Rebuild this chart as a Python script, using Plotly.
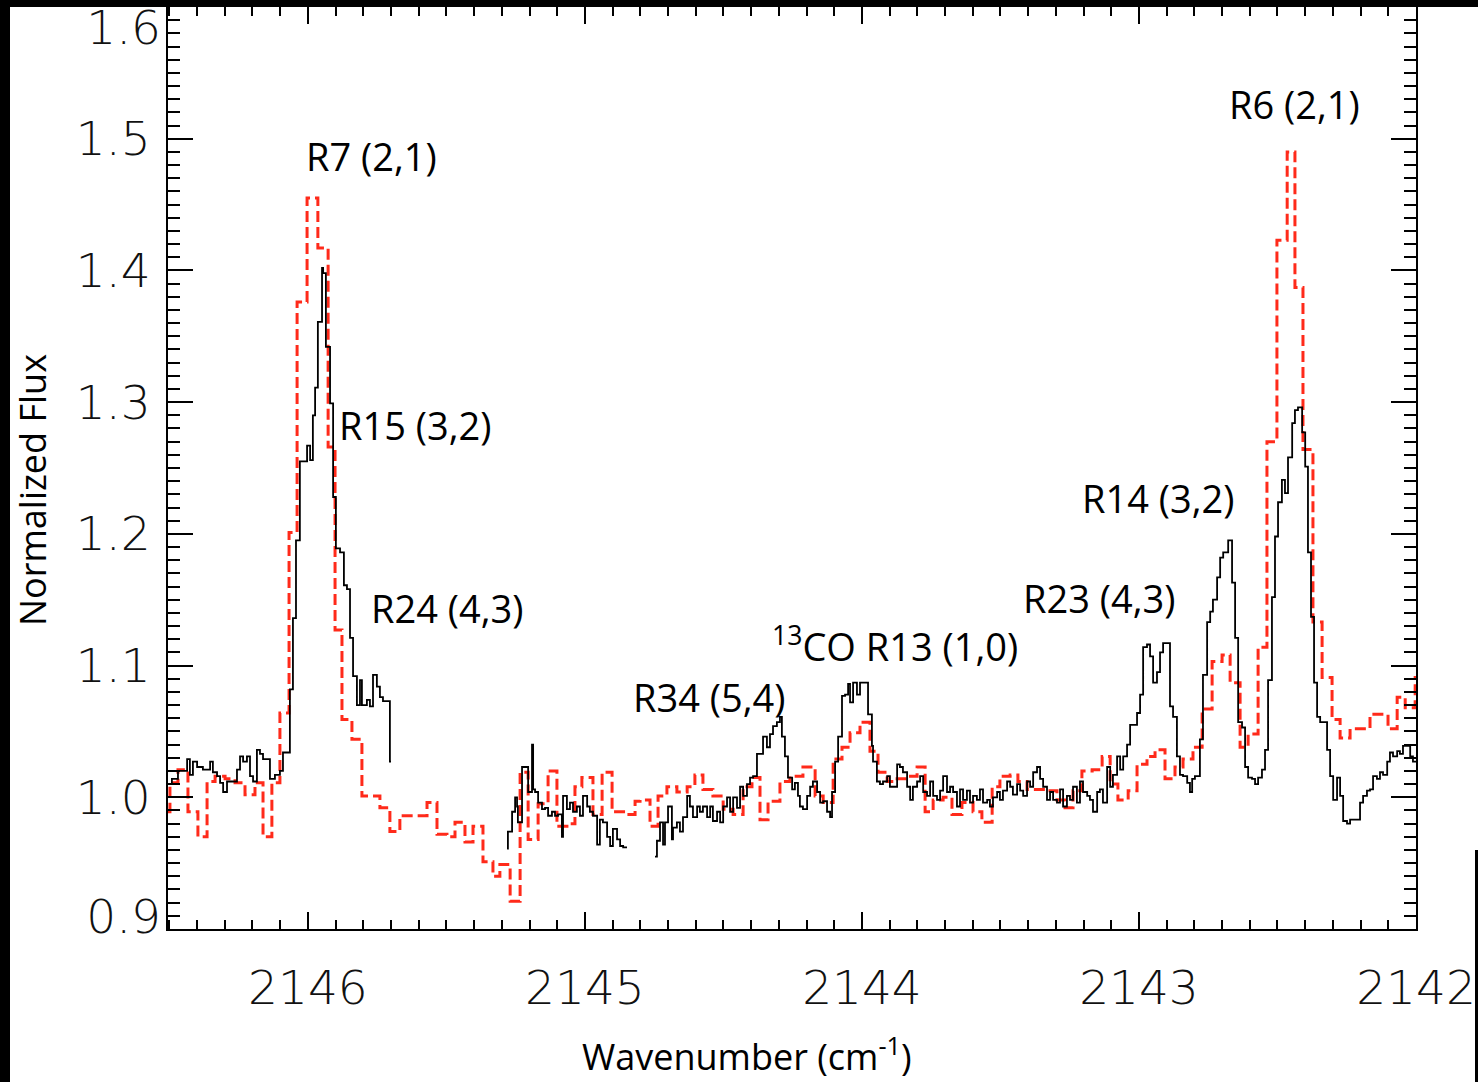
import plotly.graph_objects as go

# ---------------- data (wavenumber in cm^-1, normalized flux) ----------------
# observed spectrum (black, solid), three separate segments
obs_x1 = [2146.505, 2146.491, 2146.469, 2146.436, 2146.426, 2146.415, 2146.400, 2146.379, 2146.353, 2146.343,
          2146.328, 2146.317, 2146.306, 2146.292, 2146.256, 2146.245, 2146.234, 2146.220, 2146.209, 2146.198,
          2146.184, 2146.173, 2146.162, 2146.137, 2146.119, 2146.101, 2146.090, 2146.065, 2146.054, 2146.043,
          2146.029, 2146.014, 2146.003, 2145.992, 2145.982, 2145.974, 2145.964, 2145.949, 2145.945, 2145.935,
          2145.920, 2145.909, 2145.899, 2145.884, 2145.870, 2145.859, 2145.848, 2145.837, 2145.823, 2145.812,
          2145.805, 2145.787, 2145.776, 2145.765, 2145.751, 2145.740, 2145.729, 2145.704, 2145.700]
obs_y1 = [1.010, 1.014, 1.020, 1.029, 1.017, 1.027, 1.023, 1.021, 1.027, 1.019,
          1.016, 1.011, 1.004, 1.012, 1.021, 1.031, 1.027, 1.031, 1.016, 1.012,
          1.036, 1.033, 1.029, 1.014, 1.017, 1.020, 1.034, 1.082, 1.136, 1.195,
          1.255, 1.255, 1.267, 1.256, 1.290, 1.311, 1.361, 1.402, 1.398, 1.342,
          1.299, 1.228, 1.189, 1.186, 1.161, 1.158, 1.121, 1.092, 1.070, 1.089,
          1.070, 1.074, 1.069, 1.093, 1.084, 1.076, 1.073, 1.027, 1.027]

obs_x2 = [2145.281, 2145.278, 2145.263, 2145.252, 2145.245, 2145.242, 2145.227, 2145.205, 2145.191, 2145.187,
          2145.180, 2145.169, 2145.155, 2145.144, 2145.133, 2145.119, 2145.108, 2145.097, 2145.083, 2145.079,
          2145.065, 2145.054, 2145.043, 2145.029, 2145.018, 2145.007, 2144.992, 2144.982, 2144.971, 2144.956,
          2144.946, 2144.935, 2144.920, 2144.909, 2144.899, 2144.884, 2144.873, 2144.862, 2144.848]
obs_y2 = [0.961, 0.974, 0.989, 1.000, 0.993, 0.981, 1.023, 1.004, 1.040, 1.006,
          1.004, 0.996, 0.991, 0.992, 0.986, 0.989, 0.986, 0.987, 0.970, 1.001,
          0.991, 0.996, 0.989, 0.993, 0.986, 1.001, 0.993, 0.989, 0.986, 0.964,
          0.983, 0.981, 0.970, 0.963, 0.976, 0.968, 0.963, 0.962, 0.962]

obs_x3 = [2144.747, 2144.740, 2144.729, 2144.718, 2144.711, 2144.700, 2144.686, 2144.682, 2144.668, 2144.657,
          2144.646, 2144.631, 2144.621, 2144.610, 2144.595, 2144.585, 2144.574, 2144.559, 2144.548, 2144.538,
          2144.523, 2144.512, 2144.501, 2144.487, 2144.476, 2144.465, 2144.451, 2144.440, 2144.429, 2144.415,
          2144.404, 2144.393, 2144.379, 2144.357, 2144.343, 2144.332, 2144.321, 2144.307, 2144.296, 2144.289,
          2144.278, 2144.267, 2144.252, 2144.242, 2144.231, 2144.224, 2144.213, 2144.198, 2144.187, 2144.177,
          2144.162, 2144.151, 2144.140, 2144.126, 2144.115, 2144.108, 2144.097, 2144.086, 2144.072, 2144.061,
          2144.050, 2144.043, 2144.032, 2144.018, 2144.007, 2143.978, 2143.964, 2143.960, 2143.946, 2143.935,
          2143.924, 2143.909, 2143.899, 2143.888, 2143.873, 2143.863, 2143.852, 2143.837, 2143.826, 2143.816,
          2143.801, 2143.790, 2143.779, 2143.765, 2143.754, 2143.743, 2143.729, 2143.718, 2143.707, 2143.693,
          2143.682, 2143.671, 2143.657, 2143.646, 2143.635, 2143.621, 2143.610, 2143.599, 2143.585, 2143.574,
          2143.563, 2143.548, 2143.538, 2143.527, 2143.512, 2143.502, 2143.491, 2143.476, 2143.465, 2143.455,
          2143.440, 2143.429, 2143.418, 2143.404, 2143.393, 2143.382, 2143.368, 2143.357, 2143.346, 2143.332,
          2143.321, 2143.310, 2143.296, 2143.285, 2143.274, 2143.260, 2143.249, 2143.238, 2143.224, 2143.213,
          2143.202, 2143.187, 2143.177, 2143.166, 2143.151, 2143.141, 2143.130, 2143.115, 2143.104, 2143.094,
          2143.079, 2143.068, 2143.057, 2143.043, 2143.032, 2143.007, 2142.996, 2142.985, 2142.971, 2142.960,
          2142.949, 2142.935, 2142.924, 2142.913, 2142.888, 2142.877, 2142.863, 2142.852, 2142.841, 2142.826,
          2142.816, 2142.808, 2142.798, 2142.780, 2142.769, 2142.754, 2142.743, 2142.733, 2142.718, 2142.707,
          2142.696, 2142.678, 2142.664, 2142.653, 2142.642, 2142.628, 2142.617, 2142.606, 2142.592, 2142.581,
          2142.570, 2142.556, 2142.545, 2142.534, 2142.520, 2142.509, 2142.498, 2142.484, 2142.473, 2142.462,
          2142.447, 2142.437, 2142.426, 2142.411, 2142.400, 2142.390, 2142.379, 2142.368, 2142.357, 2142.346,
          2142.321, 2142.310, 2142.299, 2142.285, 2142.274, 2142.263, 2142.249, 2142.238, 2142.202, 2142.191,
          2142.177, 2142.166, 2142.155, 2142.141, 2142.130, 2142.119, 2142.104, 2142.094, 2142.083, 2142.068,
          2142.058, 2142.047, 2142.032, 2142.021, 2142.011, 2142.000]
obs_y3 = [0.955, 0.967, 0.981, 0.964, 0.981, 0.993, 0.968, 0.977, 0.981, 0.974,
          0.985, 1.001, 0.993, 0.985, 0.993, 0.989, 0.993, 0.985, 0.993, 0.982,
          0.989, 0.981, 0.993, 1.000, 0.989, 1.000, 0.992, 1.008, 1.001, 1.010,
          1.015, 1.016, 1.033, 1.046, 1.038, 1.048, 1.054, 1.057, 1.061, 1.046,
          1.031, 1.015, 1.006, 1.011, 1.001, 0.993, 0.991, 1.001, 1.008, 1.012,
          1.004, 0.996, 0.997, 0.989, 0.985, 1.004, 1.027, 1.046, 1.077, 1.078,
          1.086, 1.072, 1.087, 1.078, 1.087, 1.063, 1.039, 1.027, 1.012, 1.010,
          1.012, 1.016, 1.008, 1.008, 1.025, 1.023, 1.019, 1.008, 0.998, 1.008,
          1.012, 1.016, 1.004, 1.001, 1.012, 1.001, 0.998, 1.005, 1.016, 1.004,
          1.008, 1.004, 0.993, 1.006, 0.998, 1.005, 0.996, 1.001, 0.998, 1.006,
          0.996, 0.998, 0.993, 1.000, 1.004, 0.998, 1.005, 1.012, 1.008, 1.002,
          1.010, 1.005, 1.001, 1.012, 1.008, 1.019, 1.023, 1.014, 1.008, 0.998,
          1.004, 0.998, 0.996, 1.006, 0.993, 1.001, 0.998, 1.008, 0.996, 1.012,
          1.004, 1.001, 0.998, 0.989, 1.004, 1.006, 0.996, 1.023, 1.008, 1.017,
          1.031, 1.021, 1.031, 1.040, 1.055, 1.064, 1.078, 1.114, 1.116, 1.107,
          1.087, 1.095, 1.110, 1.117, 1.069, 1.061, 1.031, 1.017, 1.016, 1.011,
          1.004, 1.014, 1.016, 1.044, 1.093, 1.133, 1.141, 1.150, 1.167, 1.182,
          1.186, 1.195, 1.163, 1.121, 1.057, 1.053, 1.023, 1.015, 1.014, 1.010,
          1.015, 1.021, 1.036, 1.089, 1.152, 1.198, 1.224, 1.241, 1.231, 1.258,
          1.284, 1.294, 1.296, 1.277, 1.251, 1.186, 1.137, 1.087, 1.061, 1.057,
          1.036, 1.016, 0.998, 1.015, 1.001, 0.982, 0.980, 0.983, 0.996, 1.001,
          1.005, 1.006, 1.016, 1.014, 1.019, 1.017, 1.027, 1.034, 1.031, 1.035,
          1.033, 1.039, 1.039, 1.031, 1.027, 1.027]

# model spectrum (red, dashed)
mod_x = [2146.505, 2146.498, 2146.469, 2146.433, 2146.397, 2146.364, 2146.335, 2146.299, 2146.263, 2146.227,
         2146.191, 2146.162, 2146.130, 2146.101, 2146.068, 2146.039, 2146.003, 2145.964, 2145.927, 2145.902,
         2145.877, 2145.841, 2145.805, 2145.740, 2145.704, 2145.668, 2145.570, 2145.534, 2145.498, 2145.469,
         2145.433, 2145.404, 2145.368, 2145.332, 2145.307, 2145.270, 2145.234, 2145.205, 2145.169, 2145.133,
         2145.101, 2145.065, 2145.036, 2145.011, 2144.971, 2144.938, 2144.902, 2144.848, 2144.819, 2144.801,
         2144.765, 2144.736, 2144.704, 2144.668, 2144.631, 2144.603, 2144.574, 2144.538, 2144.501, 2144.465,
         2144.429, 2144.397, 2144.368, 2144.339, 2144.296, 2144.260, 2144.213, 2144.169, 2144.140, 2144.104,
         2144.072, 2144.043, 2144.007, 2143.971, 2143.942, 2143.909, 2143.873, 2143.837, 2143.801, 2143.772,
         2143.743, 2143.707, 2143.675, 2143.639, 2143.599, 2143.567, 2143.530, 2143.502, 2143.465, 2143.437,
         2143.404, 2143.332, 2143.296, 2143.267, 2143.238, 2143.206, 2143.169, 2143.133, 2143.104, 2143.076,
         2143.039, 2143.007, 2142.971, 2142.942, 2142.906, 2142.870, 2142.841, 2142.805, 2142.772, 2142.736,
         2142.700, 2142.671, 2142.635, 2142.606, 2142.570, 2142.538, 2142.502, 2142.465, 2142.437, 2142.408,
         2142.372, 2142.339, 2142.303, 2142.274, 2142.238, 2142.166, 2142.101, 2142.068, 2142.039, 2142.003,
         2142.000]
mod_y = [0.989, 1.011, 1.021, 0.989, 0.970, 1.012, 1.016, 1.014, 1.011, 1.002,
         1.011, 0.970, 1.011, 1.064, 1.201, 1.376, 1.455, 1.417, 1.266, 1.127,
         1.059, 1.044, 1.001, 0.992, 0.974, 0.986, 0.996, 0.972, 0.970, 0.981,
         0.966, 0.978, 0.951, 0.940, 0.949, 0.921, 1.019, 0.968, 0.995, 1.020,
         0.978, 0.980, 1.008, 1.015, 0.987, 1.019, 0.989, 0.987, 0.997, 0.998,
         0.978, 1.001, 1.008, 1.004, 1.008, 1.017, 1.006, 1.001, 0.991, 0.987,
         1.008, 1.015, 0.983, 0.997, 1.012, 1.016, 1.023, 1.001, 0.996, 1.029,
         1.038, 1.049, 1.057, 1.035, 1.019, 1.012, 1.014, 1.016, 1.023, 0.989,
         0.998, 1.000, 0.987, 0.996, 0.989, 0.981, 1.008, 1.016, 1.017, 1.012,
         1.006, 1.005, 0.998, 0.992, 1.005, 1.020, 1.021, 1.031, 1.010, 0.998,
         1.005, 1.025, 1.031, 1.036, 1.014, 1.023, 1.029, 1.038, 1.067, 1.103,
         1.108, 1.087, 1.038, 1.048, 1.114, 1.270, 1.423, 1.490, 1.387, 1.264,
         1.133, 1.091, 1.059, 1.045, 1.052, 1.063, 1.052, 1.076, 1.068, 1.091,
         1.091]

# line labels: text, wavenumber of left edge, flux level
label_text = ["R7 (2,1)", "R15 (3,2)", "R24 (4,3)", "R34 (5,4)", "<sup>13</sup>CO R13 (1,0)",
              "R23 (4,3)", "R14 (3,2)", "R6 (2,1)"]
label_x = [2146.003, 2145.884, 2145.769, 2144.823, 2144.321, 2143.415, 2143.202, 2142.671]
label_y = [1.487, 1.283, 1.144, 1.076, 1.116, 1.151, 1.227, 1.526]

x_tickvals = [2146, 2145, 2144, 2143, 2142]
x_ticktext = ["2146", "2145", "2144", "2143", "2142"]
y_tickvals = [0.9, 1.0, 1.1, 1.2, 1.3, 1.4, 1.5, 1.6]
y_ticktext = ["0.9", "1.0", "1.1", "1.2", "1.3", "1.4", "1.5", "1.6"]
x_title = "Wavenumber (cm<sup>-1</sup>)"
y_title = "Normalized Flux"

X_RANGE = [2146.505, 2142.0]
Y_RANGE = [0.9, 1.6]

# ---------------- figure ----------------
obs_x = obs_x1 + [None] + obs_x2 + [None] + obs_x3
obs_y = obs_y1 + [None] + obs_y2 + [None] + obs_y3

fig = go.Figure()
fig.add_trace(go.Scatter(x=mod_x, y=mod_y, mode="lines", line_shape="hv",
                         line=dict(color="#ff2a1a", width=3, dash="11px,5px"),
                         showlegend=False, hoverinfo="skip"))
fig.add_trace(go.Scatter(x=obs_x, y=obs_y, mode="lines", line_shape="hv",
                         line=dict(color="black", width=1.8),
                         connectgaps=False, showlegend=False, hoverinfo="skip"))
# empty traces so the label-only overlay axes are drawn
fig.add_trace(go.Scatter(x=[None], y=[None], yaxis="y2", mode="lines", showlegend=False, hoverinfo="skip"))
fig.add_trace(go.Scatter(x=[None], y=[None], yaxis="y3", mode="lines", showlegend=False, hoverinfo="skip"))

label_font = dict(family="Open Sans", size=38, color="black")
for t, xv, yv in zip(label_text, label_x, label_y):
    fig.add_annotation(x=xv, y=yv, text=t, showarrow=False, xanchor="left",
                       yanchor="middle", font=label_font, xshift=-3)

tick_font = dict(family="DejaVu Sans", size=47, color="#111111", weight=200)
title_font = dict(family="Open Sans", size=36, color="black")

fig.update_xaxes(
    range=X_RANGE, autorange=False,
    tickmode="array", tickvals=x_tickvals, ticktext=x_ticktext,
    ticks="inside", ticklen=17, tickwidth=2, tickcolor="black",
    minor=dict(dtick=0.1, tick0=2142, ticks="inside", ticklen=9, tickwidth=2, tickcolor="black"),
    showline=True, linecolor="black", linewidth=2, mirror="ticks",
    showgrid=False, zeroline=False,
    tickfont=tick_font, ticklabelstandoff=17, ticklabeloverflow="allow",
)

# main y axis: labels 1.0 .. 1.5 at their ticks; the two end labels sit on
# label-only overlay axes (nudged inward, as in the original figure)
mid_vals = y_tickvals[1:-1]
mid_text = y_ticktext[1:-1]
fig.update_layout(
    yaxis=dict(
        range=Y_RANGE, autorange=False,
        tickmode="array", tickvals=mid_vals, ticktext=mid_text,
        ticks="inside", ticklen=25, tickwidth=2, tickcolor="black",
        minor=dict(dtick=0.01, tick0=0.9, ticks="inside", ticklen=12, tickwidth=2, tickcolor="black"),
        showline=True, linecolor="black", linewidth=2, mirror="ticks",
        showgrid=False, zeroline=False,
        tickfont=tick_font, ticklabelstandoff=6,
    ),
    yaxis2=dict(
        overlaying="y", side="left", range=Y_RANGE, autorange=False,
        tickmode="array", tickvals=[y_tickvals[-1]], ticktext=[y_ticktext[-1]],
        ticks="", showline=False, showgrid=False, zeroline=False,
        tickfont=tick_font, ticklabelstandoff=6, ticklabelshift=21,
        ticklabeloverflow="allow",
    ),
    yaxis3=dict(
        overlaying="y", side="left", range=Y_RANGE, autorange=False,
        tickmode="array", tickvals=[y_tickvals[0]], ticktext=[y_ticktext[0]],
        ticks="", showline=False, showgrid=False, zeroline=False,
        tickfont=tick_font, ticklabelstandoff=6, ticklabelshift=-12,
        ticklabeloverflow="allow",
    ),
)

# geometry of the picture
W, H = 1478, 1082
L, R, T, B = 168, 62, 7, 153
pw, ph = W - L - R, H - T - B
def px(xp):
    return (xp - L) / pw
def py(yp):
    return (H - B - yp) / ph

# axis titles (placed as in the original figure)
fig.add_annotation(xref="paper", yref="paper", x=px(747), y=py(1054), text=x_title,
                   showarrow=False, xanchor="center", yanchor="middle", font=title_font)
fig.add_annotation(xref="paper", yref="paper", x=px(32), y=py(490), text=y_title, textangle=-90,
                   showarrow=False, xanchor="center", yanchor="middle", font=title_font)

# black frame strips of the original picture
for x0, y0, x1, y1 in [(0, 0, 10, H), (0, 0, W, 7), (1475, 850, W, H)]:
    fig.add_shape(type="rect", xref="paper", yref="paper",
                  x0=px(x0), x1=px(x1), y0=py(y1), y1=py(y0),
                  fillcolor="black", line_width=0, layer="below")

fig.update_layout(
    width=W, height=H,
    margin=dict(l=L, r=R, t=T, b=B, autoexpand=False),
    paper_bgcolor="white", plot_bgcolor="white",
    showlegend=False,
)

fig.write_html("out.html")
